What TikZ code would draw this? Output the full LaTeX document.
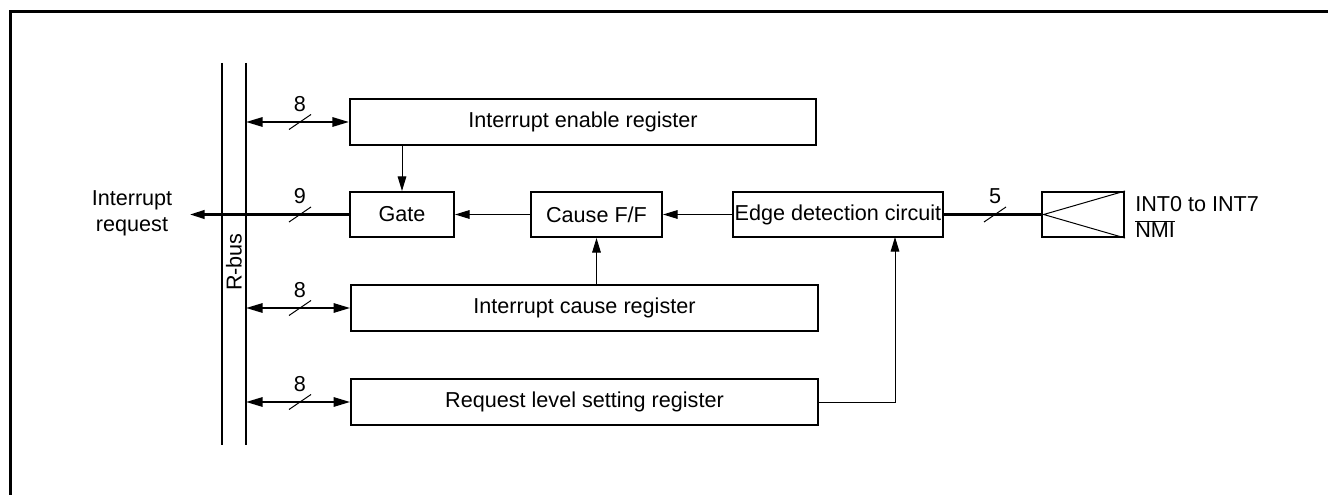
\documentclass[tikz,border=0pt]{standalone}
\usepackage{fontspec}
\setmainfont{Liberation Sans}
\usetikzlibrary{arrows.meta,calc}
\begin{document}
\begin{tikzpicture}[x=0.75pt,y=-0.75pt,
  every node/.style={font=\fontsize{16.2}{19.5}\selectfont},
  blk/.style={draw,line width=1.5pt,inner sep=0pt,minimum height=34.5pt},
  thin/.style={line width=0.75pt},
  bus/.style={line width=1.6pt},
  tip/.style={-{Triangle[length=11pt,width=6.5pt]}},
  dtip/.style={{Triangle[length=12.5pt,width=7pt]}-{Triangle[length=12.5pt,width=7pt]}},
  lbl/.style={inner sep=0pt}
]
\useasboundingbox (0,0) rectangle (1328,495);
\clip (0,0) rectangle (1328,495);
% frame
\draw[line width=2.25pt] (10,495) -- (10,12) -- (1328,12);
% R-bus
\coordinate (bLt) at (222,63);
\coordinate (bLb) at (222,445);
\coordinate (bRt) at (246,63);
\coordinate (bRb) at (246,445);
\draw[bus] (bLt) -- (bLb);
\draw[bus] (bRt) -- (bRb);
\node[lbl,rotate=90] (rbus) at (234,262) {R-bus};
% blocks
\node[blk,minimum width=349.5pt] (enable) at (583,122) {Interrupt enable register};
\node[blk,minimum width=78pt,minimum height=33.75pt] (gate) at (402,214.5) {Gate};
\node[blk,minimum width=98.25pt,minimum height=33.75pt] (cff) at (596.5,214.5) {Cause F/F};
\node[blk,minimum width=157.5pt,minimum height=33.75pt] (edge) at (838,214.5) {Edge detection circuit};
\node[blk,minimum width=61.5pt,minimum height=33.75pt] (inp) at (1083,214.5) {};
\node[blk,minimum width=350pt] (creg) at (584.5,308) {Interrupt cause register};
\node[blk,minimum width=350pt] (rreg) at (584.5,402) {Request level setting register};
% input symbol
\draw[thin] (inp.north east) -- ([xshift=2pt]inp.west) -- (inp.south east);
\node[lbl,anchor=west,align=left] (intxt) at (1135,217) {INT0 to INT7\\$\overline{\mbox{NMI}}$};
% bus connections
\coordinate (c1) at (bRt |- enable.west);
\coordinate (c3) at (bRt |- creg.west);
\coordinate (c4) at (bRt |- rreg.west);
\coordinate (out) at (190,214.5);
\coordinate (e2) at (895,237);
\draw[bus,dtip] (c1) -- (enable.west);
\draw[bus,dtip] (c3) -- (creg.west);
\draw[bus,dtip] (c4) -- (rreg.west);
\draw[bus,tip] (gate.west) -- (out);
\draw[bus] (edge.east) -- (inp.west);
% internal arrows
\draw[thin,tip] (enable.south -| gate.north) -- (gate.north);
\draw[thin,tip] (cff.west) -- (gate.east);
\draw[thin,tip] (edge.west) -- (cff.east);
\draw[thin,tip] (cff.south |- creg.north) -- (cff.south);
\draw[thin,tip] (rreg.east) -| (e2);
% slashes and widths
\coordinate (s1) at (300,122);
\coordinate (s2) at (300,214.5);
\coordinate (s3) at (300,308);
\coordinate (s4) at (300,402);
\coordinate (s5) at (995,214.5);
\foreach \s/\n in {s1/8,s2/9,s3/8,s4/8,s5/5}{
  \draw[thin] ([shift={(-11,7.5)}]\s) -- ([shift={(11,-7.5)}]\s);
  \node[lbl] (n\s) at ([shift={(0,-18)}]\s) {\n};
}
\node[lbl,align=center] (irq) at (132,213) {Interrupt\\request};
\end{tikzpicture}
\end{document}
